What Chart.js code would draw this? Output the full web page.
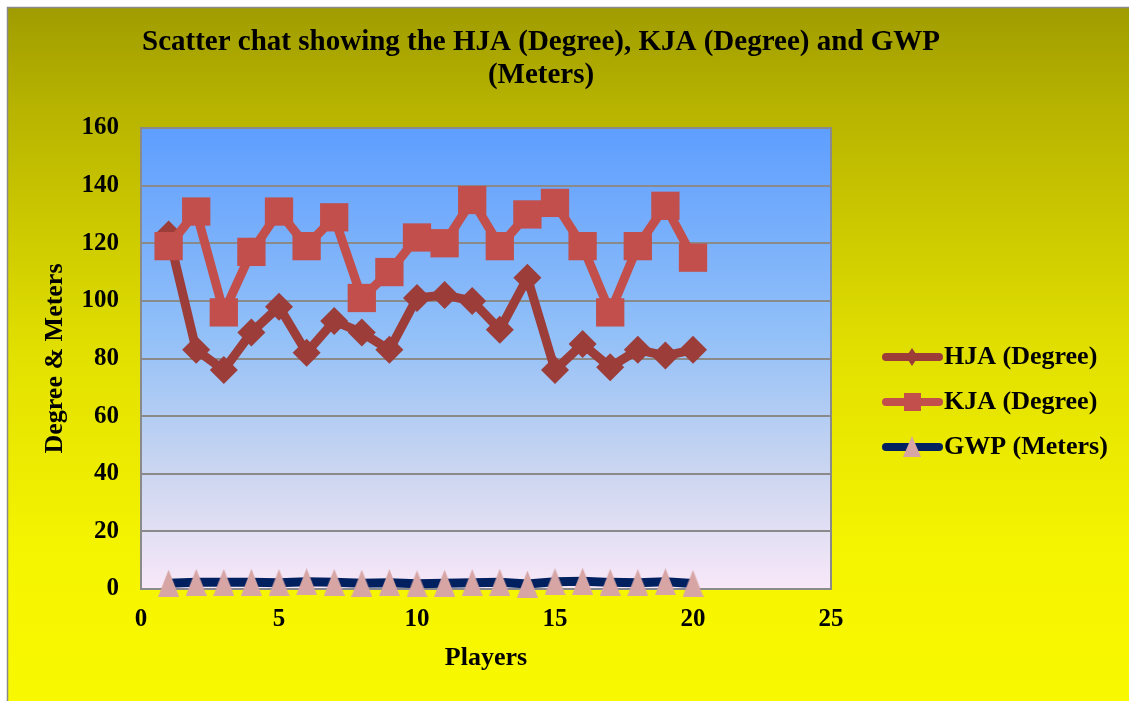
<!DOCTYPE html>
<html>
<head>
<meta charset="utf-8">
<script src="https://cdn.jsdelivr.net/npm/chart.js@4.4.1/dist/chart.umd.min.js"></script>
<style>
  html, body { margin: 0; padding: 0; background: #ffffff; }
  #wrap { width: 1129px; height: 701px; position: relative; }
  canvas { display: block; }
</style>
</head>
<body>
<div id="wrap"><canvas id="c" width="1129" height="701"></canvas></div>
<script>
// ---- Data ----
const players = [1, 2, 3, 4, 5, 6, 7, 8, 9, 10, 11, 12, 13, 14, 15, 16, 17, 18, 19, 20];
const hjaDegree = [123, 83, 76, 89, 98, 82, 93, 89, 83, 101, 102, 100, 90, 108, 76, 85, 77, 83, 81, 83];
const kjaDegree = [119, 131, 96, 117, 131, 119, 129, 101, 110, 122, 120, 135, 119, 130, 134, 119, 96, 119, 133, 115];
const gwpMeters = [2.0, 2.3, 2.3, 2.3, 2.2, 2.5, 2.3, 2.0, 2.2, 1.8, 2.0, 2.2, 2.3, 1.7, 2.5, 2.7, 2.3, 2.2, 2.5, 1.9];
const seriesNames = ['HJA (Degree)', 'KJA (Degree)', 'GWP (Meters)'];
const titleLines = ['Scatter chat showing the HJA (Degree), KJA (Degree) and GWP', '(Meters)'];
const xAxisTitle = 'Players';
const yAxisTitle = 'Degree & Meters';

const toXY = (xs, ys) => xs.map((x, i) => ({ x: x, y: ys[i] }));

const SERIF = '"Liberation Serif", "Times New Roman", serif';
const C_HJA = '#9C3D3A';
const C_KJA = '#C24F4B';
const C_GWP = '#002060';
const C_TRI = '#D8A5A5';

function makeTriangle(w, h, color) {
  const cv = document.createElement('canvas');
  cv.width = w; cv.height = h;
  const g = cv.getContext('2d');
  g.fillStyle = color;
  g.beginPath();
  g.moveTo(w / 2, 0);
  g.lineTo(w, h);
  g.lineTo(0, h);
  g.closePath();
  g.fill();
  return cv;
}
const triImg = makeTriangle(21, 27, C_TRI);

const bgPlugin = {
  id: 'bgPlugin',
  beforeDraw(chart) {
    const ctx = chart.ctx;
    const W = chart.width, H = chart.height;
    ctx.save();
    ctx.fillStyle = '#ffffff';
    ctx.fillRect(0, 0, W, H);
    const g = ctx.createLinearGradient(0, 7, 0, H);
    g.addColorStop(0, '#A09C00');
    g.addColorStop(0.15, '#B8B400');
    g.addColorStop(0.5, '#E2E000');
    g.addColorStop(0.8, '#F6F500');
    g.addColorStop(1, '#F8F800');
    ctx.fillStyle = g;
    ctx.fillRect(7, 7, W - 7, H - 7);
    ctx.strokeStyle = '#8a8a8a';
    ctx.lineWidth = 1.5;
    ctx.beginPath();
    ctx.moveTo(7.5, H);
    ctx.lineTo(7.5, 7.5);
    ctx.lineTo(W, 7.5);
    ctx.stroke();
    const a = chart.chartArea;
    const pg = ctx.createLinearGradient(0, a.top, 0, a.bottom);
    pg.addColorStop(0, '#5E9EFF');
    pg.addColorStop(0.45, '#92C0F8');
    pg.addColorStop(0.75, '#CCD6F0');
    pg.addColorStop(1, '#F8E8F8');
    ctx.fillStyle = pg;
    ctx.fillRect(a.left, a.top, a.right - a.left, a.bottom - a.top);
    ctx.restore();
  },
  beforeDatasetsDraw(chart) {
    const ctx = chart.ctx;
    const a = chart.chartArea;
    ctx.save();
    ctx.strokeStyle = '#8a8a8a';
    ctx.lineWidth = 2;
    ctx.strokeRect(a.left, a.top, a.right - a.left, a.bottom - a.top);
    ctx.restore();
  },
  afterDraw(chart) {
    const ctx = chart.ctx;
    ctx.save();
    // Title
    ctx.fillStyle = '#000';
    ctx.font = 'bold 29px ' + SERIF;
    ctx.textAlign = 'center';
    ctx.textBaseline = 'middle';
    ctx.fillText(titleLines[0], 541, 43);
    ctx.fillText(titleLines[1], 541, 76);
    // Legend
    const rows = [
      { y: 357, color: C_HJA, marker: 'diamond' },
      { y: 402, color: C_KJA, marker: 'square' },
      { y: 447, color: C_GWP, marker: 'triangle' }
    ];
    rows.forEach((r, i) => {
      ctx.strokeStyle = r.color;
      ctx.lineWidth = 8;
      ctx.lineCap = 'round';
      ctx.beginPath();
      ctx.moveTo(886, r.y);
      ctx.lineTo(939, r.y);
      ctx.stroke();
      const mx = 912;
      ctx.beginPath();
      if (r.marker === 'diamond') {
        ctx.fillStyle = C_HJA;
        ctx.moveTo(mx, r.y - 9); ctx.lineTo(mx + 6, r.y); ctx.lineTo(mx, r.y + 9); ctx.lineTo(mx - 6, r.y);
        ctx.closePath(); ctx.fill();
      } else if (r.marker === 'square') {
        ctx.fillStyle = C_KJA;
        ctx.fillRect(mx - 8, r.y - 9, 17, 18);
      } else {
        ctx.fillStyle = C_TRI;
        ctx.moveTo(mx, r.y - 11); ctx.lineTo(mx + 9, r.y + 10); ctx.lineTo(mx - 9, r.y + 10);
        ctx.closePath(); ctx.fill();
      }
      ctx.fillStyle = '#000';
      ctx.font = 'bold 26px ' + SERIF;
      ctx.textAlign = 'left';
      ctx.textBaseline = 'middle';
      ctx.fillText(seriesNames[i], 944, r.y);
    });
    ctx.restore();
  }
};

new Chart(document.getElementById('c'), {
  type: 'scatter',
  data: {
    datasets: [
      {
        label: seriesNames[0],
        data: toXY(players, hjaDegree),
        showLine: true,
        borderColor: C_HJA,
        backgroundColor: C_HJA,
        borderWidth: 9,
        pointStyle: 'rectRot',
        pointRadius: 14,
        pointBorderWidth: 0,
        pointHoverRadius: 14,
        clip: false,
        order: 3
      },
      {
        label: seriesNames[1],
        data: toXY(players, kjaDegree),
        showLine: true,
        borderColor: C_KJA,
        backgroundColor: C_KJA,
        borderWidth: 9,
        pointStyle: 'rect',
        pointRadius: 20,
        pointBorderWidth: 0,
        pointHoverRadius: 20,
        clip: false,
        order: 2
      },
      {
        label: seriesNames[2],
        data: toXY(players, gwpMeters),
        showLine: true,
        borderColor: C_GWP,
        backgroundColor: C_TRI,
        borderWidth: 9,
        pointStyle: triImg,
        pointRadius: 14,
        pointHoverRadius: 14,
        clip: false,
        order: 1
      }
    ]
  },
  options: {
    responsive: false,
    animation: false,
    events: [],
    layout: { padding: { left: 0, right: 298, top: 128, bottom: 0 } },
    plugins: {
      legend: { display: false },
      title: { display: false },
      tooltip: { enabled: false }
    },
    scales: {
      x: {
        type: 'linear',
        min: 0,
        max: 25,
        ticks: {
          stepSize: 5,
          color: '#000',
          padding: 16,
          font: { family: SERIF, size: 25, weight: 'bold' }
        },
        grid: { display: false, drawTicks: false },
        border: { display: false },
        title: {
          display: true,
          text: xAxisTitle,
          color: '#000',
          font: { family: SERIF, size: 26, weight: 'bold' },
          padding: { top: 0, bottom: 27 }
        },
        afterFit(scale) { scale.height = 112; }
      },
      y: {
        type: 'linear',
        min: 0,
        max: 160,
        ticks: {
          stepSize: 20,
          color: '#000',
          padding: 22,
          font: { family: SERIF, size: 25, weight: 'bold' }
        },
        grid: { color: '#8a8a8a', lineWidth: 2, drawTicks: false },
        border: { display: false },
        title: {
          display: true,
          text: yAxisTitle,
          color: '#000',
          font: { family: SERIF, size: 26, weight: 'bold' },
          padding: { top: 40, bottom: 0 }
        },
        afterFit(scale) { scale.width = 141; }
      }
    }
  },
  plugins: [bgPlugin]
});
</script>
</body>
</html>
